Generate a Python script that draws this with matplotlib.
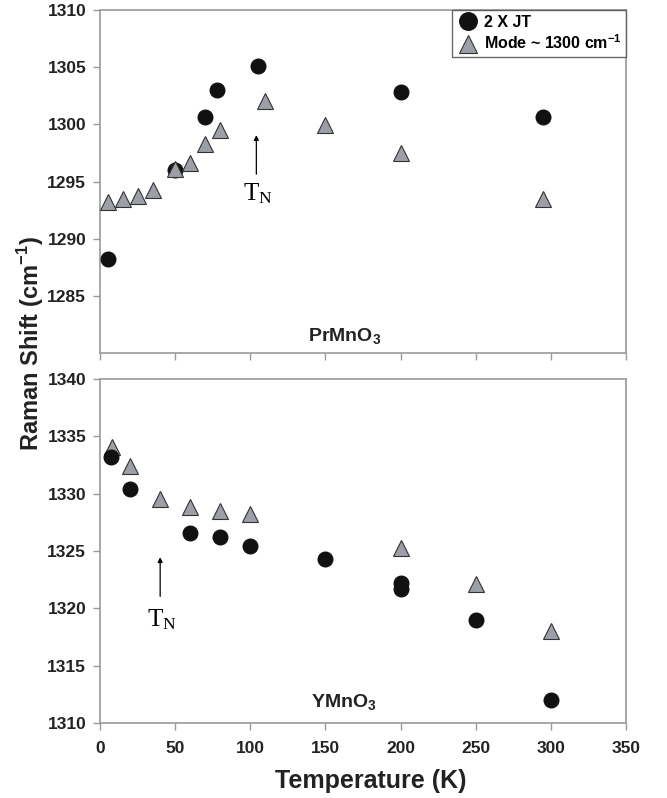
import numpy as np
import matplotlib.pyplot as plt

plt.rcParams['font.family'] = ['Liberation Sans', 'DejaVu Sans']
plt.rcParams['mathtext.fontset'] = 'custom'
plt.rcParams['mathtext.rm'] = 'Liberation Serif'
plt.rcParams['mathtext.bf'] = 'Liberation Sans:bold'

# PrMnO3 (top panel)
pr_jt_T = [5, 50, 70, 78, 105, 200, 295]
pr_jt_v = [1288.2, 1296.0, 1300.6, 1303.0, 1305.1, 1302.8, 1300.6]
pr_mode_T = [5, 15, 25, 35, 50, 60, 70, 80, 110, 150, 200, 295]
pr_mode_v = [1293.2, 1293.5, 1293.7, 1294.3, 1296.1, 1296.6, 1298.3, 1299.5,
             1302.0, 1299.9, 1297.5, 1293.5]

# YMnO3 (bottom panel)
y_jt_T = [7, 20, 60, 80, 100, 150, 200, 200, 250, 300]
y_jt_v = [1333.2, 1330.4, 1326.6, 1326.2, 1325.4, 1324.3, 1322.2, 1321.7,
          1319.0, 1312.0]
y_mode_T = [8, 20, 40, 60, 80, 100, 200, 250, 300]
y_mode_v = [1334.1, 1332.4, 1329.5, 1328.8, 1328.5, 1328.2, 1325.3, 1322.1, 1318.0]

tri_color = '#9c9fa8'
spine_color = '#9a9a9a'

fig = plt.figure(figsize=(6.67, 7.98), dpi=100)
ax1 = fig.add_axes([0.150, 0.5576, 0.7886, 0.4299])
ax2 = fig.add_axes([0.150, 0.094, 0.7886, 0.4311])


def style(ax):
    for s in ax.spines.values():
        s.set_color(spine_color)
        s.set_linewidth(1.2)
    ax.tick_params(axis='both', direction='out', length=5, width=1.0,
                   color=spine_color, labelsize=12.5, labelcolor='#222222')
    ax.tick_params(axis='y', pad=5)
    ax.tick_params(axis='x', pad=8)
    for lab in ax.get_xticklabels() + ax.get_yticklabels():
        lab.set_fontweight('bold')
    ax.set_xlim(0, 350)
    ax.set_xticks(np.arange(0, 351, 50))


# top panel
ax1.plot(pr_jt_T, pr_jt_v, 'o', ms=10.5, color='#111111', zorder=3,
         label='2 X JT')
ax1.plot(pr_mode_T, pr_mode_v, '^', ms=11, mfc=tri_color, mec='#333333',
         mew=0.8, zorder=4, label='Mode ~ 1300 cm$^{\\mathbf{-1}}$')
ax1.set_ylim(1280, 1310)
ax1.set_yticks(np.arange(1285, 1311, 5))
style(ax1)
ax1.set_xticklabels([])
ax1.annotate('', xy=(104, 1299.3), xytext=(104, 1295.4),
             arrowprops=dict(arrowstyle='-|>', color='black', lw=0.9,
                             mutation_scale=7))
ax1.text(105, 1293.9, r'$\mathrm{T_N}$', fontsize=18, ha='center', va='center')
ax1.text(163, 1281.5, r'$\mathbf{PrMnO_3}$', fontsize=14, ha='center',
         va='center', color='#222222')
leg = ax1.legend(loc='upper right', borderaxespad=0, frameon=True,
                 fancybox=False, handletextpad=0.2, handlelength=1.5,
                 borderpad=0.3, labelspacing=0.25, markerscale=1.2,
                 prop={'weight': 'bold', 'size': 11.5})
leg.get_frame().set_edgecolor('#444444')
leg.get_frame().set_linewidth(1.0)

# bottom panel
ax2.plot(y_mode_T, y_mode_v, '^', ms=11, mfc=tri_color, mec='#333333',
         mew=0.8, zorder=3)
ax2.plot(y_jt_T, y_jt_v, 'o', ms=10.5, color='#111111', zorder=4)
ax2.set_ylim(1310, 1340)
ax2.set_yticks(np.arange(1310, 1341, 5))
style(ax2)
ax2.annotate('', xy=(40, 1324.7), xytext=(40, 1320.8),
             arrowprops=dict(arrowstyle='-|>', color='black', lw=0.9,
                             mutation_scale=7))
ax2.text(41, 1319.0, r'$\mathrm{T_N}$', fontsize=18, ha='center', va='center')
ax2.text(162, 1311.8, r'$\mathbf{YMnO_3}$', fontsize=14, ha='center',
         va='center', color='#222222')

fig.text(0.046, 1 - 344 / 798, 'Raman Shift (cm$^{\\mathbf{-1}}$)',
         rotation=90, ha='center', va='center', fontsize=17,
         fontweight='bold', color='#222222')
fig.text(0.556, 1 - 781 / 798, 'Temperature (K)', ha='center', va='center',
         fontsize=18, fontweight='bold', color='#222222')

fig.savefig('out.png', dpi=100)
